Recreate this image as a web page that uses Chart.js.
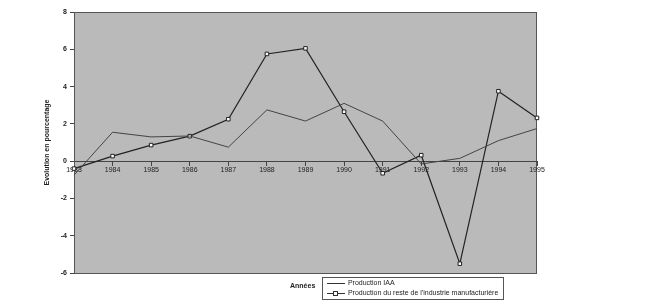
<!DOCTYPE html>
<html>
<head>
<meta charset="utf-8">
<script src="https://cdn.jsdelivr.net/npm/chart.js@4/dist/chart.umd.min.js"></script>
<style>
  body { margin:0; background:#fff; }
  #wrap { position:relative; width:660px; height:307px; }
  #annees { position:absolute; left:290px; top:282px; font:bold 7px Arial, "Liberation Sans", sans-serif; color:#222; }
  #legend { position:absolute; left:322px; top:277px; width:180px; height:21px; border:1px solid #555; background:#fff;
            font:7px Arial, "Liberation Sans", sans-serif; color:#222; }
  .row { position:absolute; left:3px; white-space:nowrap; }
  .row canvas { vertical-align:middle; }
</style>
</head>
<body>
<div id="wrap">
  <canvas id="myChart" width="660" height="307"></canvas>
  <div id="annees">Années</div>
  <div id="legend">
    <div class="row" style="top:1px"><canvas id="lg1" width="20" height="9"></canvas> Production IAA</div>
    <div class="row" style="top:11px"><canvas id="lg2" width="20" height="9"></canvas> Production du reste de l'industrie manufacturière</div>
  </div>
</div>
<script>
var years = ["1983","1984","1985","1986","1987","1988","1989","1990","1991","1992","1993","1994","1995"];
var iaa = [-0.75, 1.55, 1.3, 1.35, 0.75, 2.75, 2.15, 3.1, 2.15, -0.15, 0.15, 1.1, 1.75];
var resteIndustrie = [-0.4, 0.27, 0.86, 1.34, 2.25, 5.75, 6.05, 2.65, -0.65, 0.32, -5.5, 3.75, 2.32];
var yTicks = [-6, -4, -2, 0, 2, 4, 6, 8];

var plotBg = {
  id: "plotBg",
  beforeDraw: function(chart) {
    var a = chart.chartArea, c = chart.ctx;
    c.save();
    c.fillStyle = "#bababa";
    c.fillRect(a.left, a.top, a.right - a.left, a.bottom - a.top);
    c.strokeStyle = "#555";
    c.lineWidth = 1;
    c.strokeRect(a.left + 0.5, a.top + 0.5, a.right - a.left - 1, a.bottom - a.top);
    c.restore();
  }
};

var myChart = document.getElementById("myChart").getContext("2d");

var lineChart = new Chart(myChart, {
  type: "line",
  data: {
    labels: years,
    datasets: [{
      label: "Production IAA",
      data: iaa,
      borderColor: "#444",
      borderWidth: 1,
      pointRadius: 0,
      tension: 0
    }, {
      label: "Production du reste de l'industrie manufacturière",
      data: resteIndustrie,
      borderColor: "#222",
      borderWidth: 1.2,
      pointStyle: "rect",
      pointRadius: 2.5,
      pointBackgroundColor: "#fff",
      pointBorderColor: "#222",
      pointBorderWidth: 1,
      tension: 0
    }]
  },
  options: {
    responsive: false,
    animation: false,
    layout: { padding: { left: 43, right: 123, top: 12, bottom: 34 } },
    plugins: { legend: { display: false }, tooltip: { enabled: false } },
    scales: {
      x: {
        position: { y: 0 },
        offset: false,
        grid: { color: "transparent", drawOnChartArea: false, tickColor: "#444", tickLength: 4 },
        border: { color: "#444", width: 1 },
        ticks: { color: "#222", font: { family: "Arial", size: 7 }, padding: 1, maxRotation: 0, autoSkip: false }
      },
      y: {
        min: -6,
        max: 8,
        afterFit: function(scale) { scale.width = 31; },
        afterBuildTicks: function(scale) { scale.ticks = yTicks.map(function(v) { return { value: v }; }); },
        grid: { color: "transparent", drawOnChartArea: false, tickColor: "#444", tickLength: 4 },
        border: { color: "#555" },
        ticks: { color: "#222", font: { family: "Arial", size: 7, weight: "bold" }, padding: 3 },
        title: { display: true, text: "Evolution en pourcentage", color: "#222", font: { family: "Arial", size: 7, weight: "bold" }, padding: 0 }
      }
    }
  },
  plugins: [plotBg]
});

// petits symboles de la légende
function drawSample(id, marker) {
  var c = document.getElementById(id).getContext("2d");
  c.strokeStyle = "#333";
  c.lineWidth = 1;
  c.beginPath(); c.moveTo(1, 4.5); c.lineTo(19, 4.5); c.stroke();
  if (marker) {
    c.fillStyle = "#fff";
    c.fillRect(7.5, 2.5, 4, 4);
    c.strokeRect(7.5, 2.5, 4, 4);
  }
}
drawSample("lg1", false);
drawSample("lg2", true);
</script>
</body>
</html>
